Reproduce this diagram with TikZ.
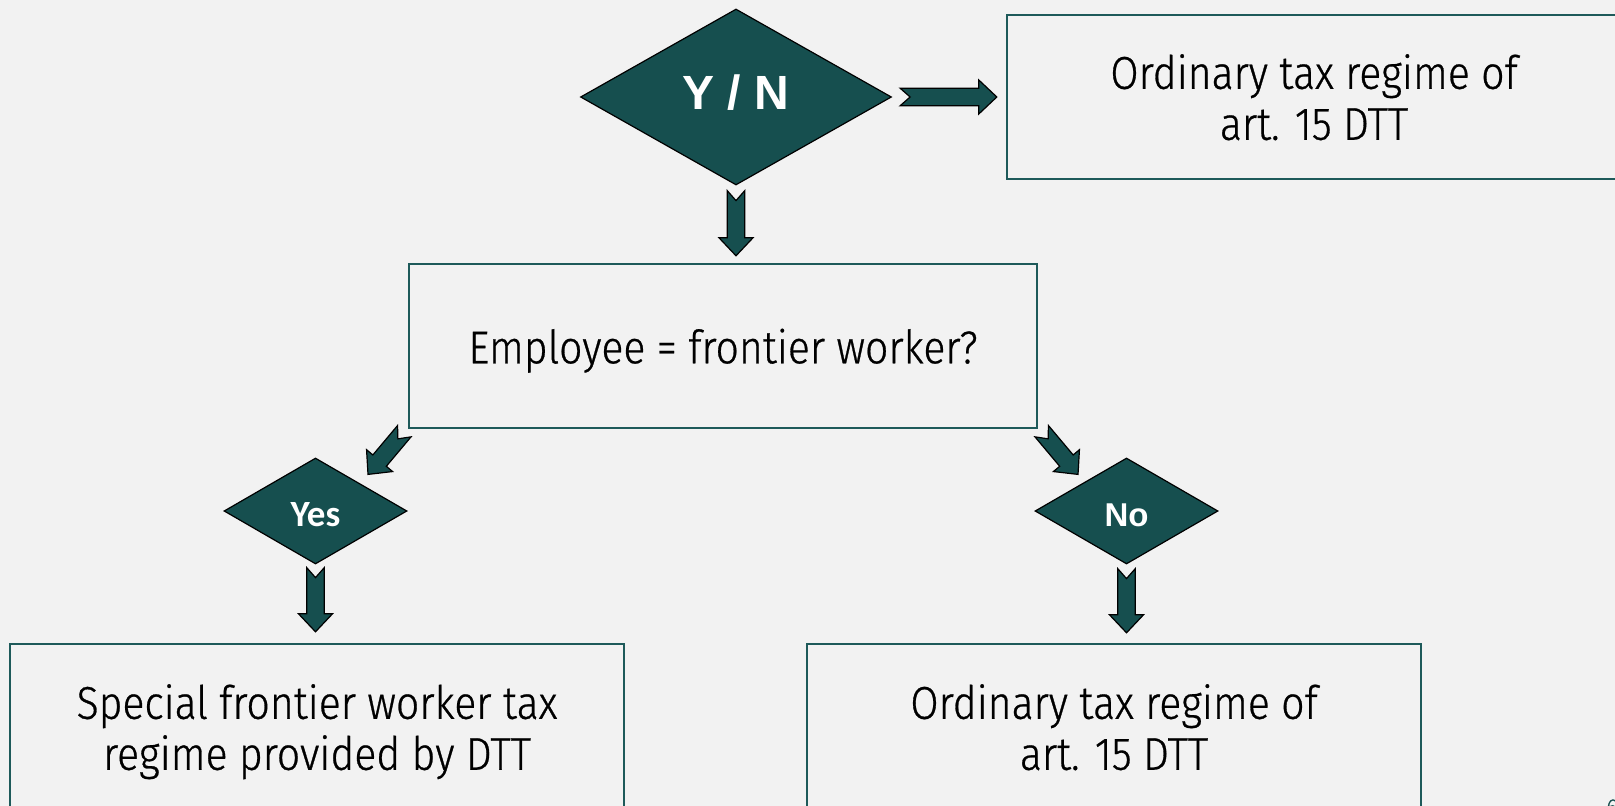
\documentclass[tikz,border=0pt]{standalone}
\usepackage{fontspec}
\usetikzlibrary{shapes.geometric,calc}
\newfontfamily\boxfont{Fira Sans Light}[FakeStretch=0.89, FakeBold=0.6]
\newfontfamily\arialfont{Liberation Sans}
\newfontfamily\calibrifont{Carlito}
\definecolor{bgcol}{HTML}{F2F2F2}
\definecolor{tealfill}{HTML}{164F4F}
\definecolor{tealline}{HTML}{1E5A5A}

\tikzset{
  textbox/.style={rectangle, draw=tealline, line width=1.2pt, fill=none,
    align=center, inner sep=0pt, text=black, text depth=-2.5pt,
    font=\boxfont\fontsize{23}{25.5}\selectfont},
  decision/.style={diamond, draw=black, line width=0.6pt, fill=tealfill,
    inner sep=0pt, text=white},
  blockarrow/.style={draw=black, line width=0.6pt, fill=tealfill, line join=miter},
}

% notched block arrow from #1 to #2 (shaft 8.8px, head 17px wide, 18px long)
\newcommand\blockarrow[2]{%
  \coordinate (ba-a) at (#1);
  \coordinate (ba-b) at (#2);
  \coordinate (ba-h) at ($(ba-b)!9pt!(ba-a)$);
  \draw[blockarrow]
    ($(ba-a)!4.4pt!90:(ba-b)$) -- ($(ba-a)!5pt!(ba-b)$) --
    ($(ba-a)!4.4pt!-90:(ba-b)$) -- ($(ba-h)!4.4pt!-90:(ba-b)$) --
    ($(ba-h)!8.5pt!-90:(ba-b)$) -- (ba-b) --
    ($(ba-h)!8.5pt!90:(ba-b)$) -- ($(ba-h)!4.4pt!90:(ba-b)$) -- cycle;
}

\begin{document}
\begin{tikzpicture}[x=0.5pt, y=-0.5pt]
  \useasboundingbox (0,0) rectangle (1615,806);
  \clip (0,0) rectangle (1615,806);
  \fill[bgcol] (0,0) rectangle (1615,806);

  % decisions
  \node[decision, minimum width=155.5pt, minimum height=88pt,
        text height=16.5pt, text depth=3.5pt,
        font=\arialfont\bfseries\fontsize{24}{28}\selectfont]
        (q) at (736,97) {Y / N};
  \node[decision, minimum width=91.5pt, minimum height=53pt,
        text height=15pt, text depth=0pt,
        font=\calibrifont\bfseries\fontsize{18.5}{21}\selectfont]
        (yes) at (315.5,511) {Yes};
  \node[decision, minimum width=91.5pt, minimum height=53pt,
        text height=15pt, text depth=0pt,
        font=\arialfont\bfseries\fontsize{16.5}{19}\selectfont]
        (no) at (1126.5,511) {No};

  % outcome boxes
  \node[textbox, minimum width=307pt, minimum height=82pt]
        (art) at (1314,97) {Ordinary tax regime of\\art. 15 DTT};
  \node[textbox, minimum width=314pt, minimum height=82pt]
        (emp) at (723,346) {Employee = frontier worker?};
  \node[textbox, minimum width=307pt, minimum height=83pt]
        (spec) at (317,727) {Special frontier worker tax\\regime provided by DTT};
  \node[textbox, minimum width=307pt, minimum height=83pt]
        (ord) at (1114,727) {Ordinary tax regime of\\art. 15 DTT};

  % page number at the corner
  \node[anchor=north west, inner sep=0pt, text=tealfill,
        font=\boxfont\fontsize{12}{14}\selectfont] (pg) at (1606,799) {6};

  % connectors
  \blockarrow{$(q.east)+(8,0)$}{$(art.west)+(-9,0)$}
  \blockarrow{$(q.south)+(0,5)$}{$(q.south |- emp.north)+(0,-7)$}
  \blockarrow{$(emp.south west)+(-3.5,2)$}{$(yes.north)+(52.5,17)$}
  \blockarrow{$(emp.south east)+(3.5,2)$}{$(no.north)+(-48.5,17)$}
  \blockarrow{$(yes.south)+(0,3)$}{$(yes.south |- spec.north)+(0,-11)$}
  \blockarrow{$(no.south)+(0,4)$}{$(no.south |- ord.north)+(0,-10)$}
\end{tikzpicture}
\end{document}
